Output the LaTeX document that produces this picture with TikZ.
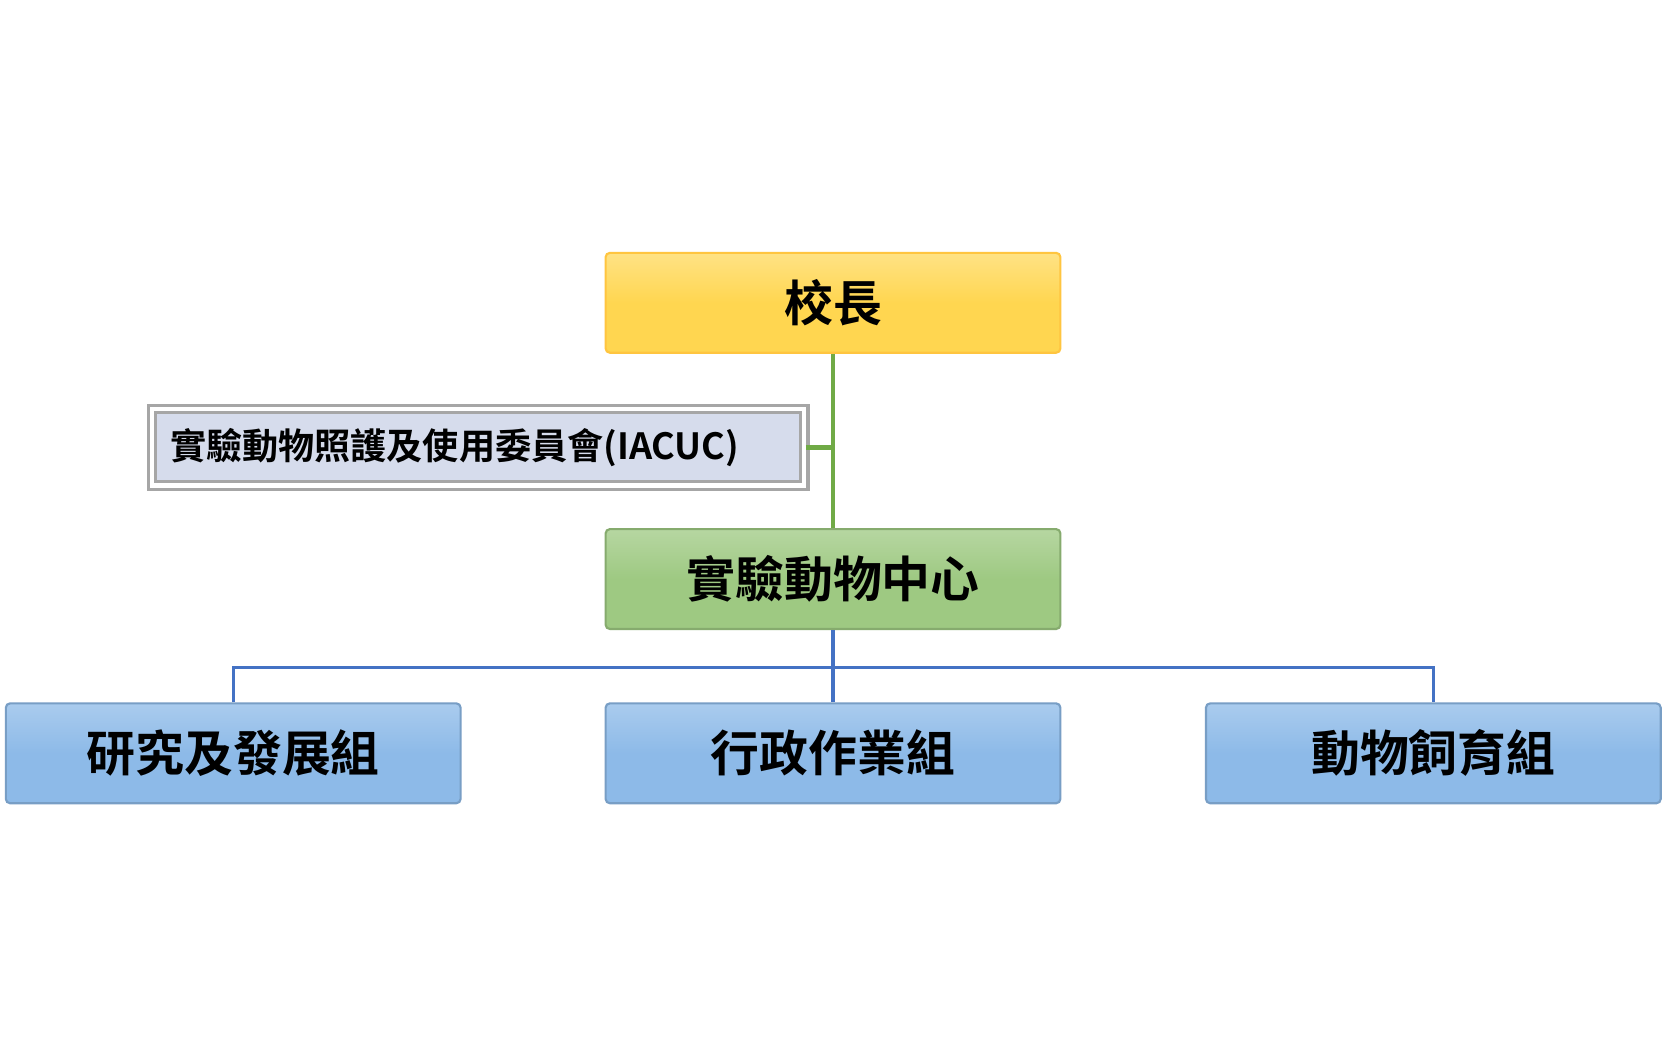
\documentclass[tikz,border=0pt]{standalone}
\usepackage{fontspec}
\newfontfamily\cjk{Noto Sans CJK TC}[BoldFont={Noto Sans CJK TC Bold}]
\usetikzlibrary{shadows}
\definecolor{headyellow}{RGB}{255,214,80}
\definecolor{centergreen}{RGB}{158,201,130}
\definecolor{unitblue}{RGB}{141,186,232}
\definecolor{iacucgray}{RGB}{214,220,236}
\definecolor{linegreen}{RGB}{112,170,70}
\definecolor{lineblue}{RGB}{68,114,196}
\tikzstyle{box}=[rectangle, rounded corners=2pt, minimum width=214pt, minimum height=47pt, inner sep=0pt, anchor=center, font=\cjk\bfseries\fontsize{23}{26}\selectfont, line width=1pt]
\tikzstyle{annot}=[rectangle, fill=iacucgray, draw=black!35, line width=1.5pt, minimum width=307pt, minimum height=36pt, inner sep=0pt, font=\cjk\bfseries\fontsize{17}{20}\selectfont, double=white, double distance=2pt, drop shadow={opacity=0.25}]
\begin{document}
\begin{tikzpicture}[x=0.5pt,y=-0.5pt]
	\useasboundingbox[fill=white] (0,0) rectangle (1568,994);

	\node[box, top color=headyellow!70!white, bottom color=headyellow, middle color=headyellow, draw=headyellow!80!orange](head) at (784,285){校長};
	\node[annot, text width=290pt, align=left](iacuc) at (450,421){實驗動物照護及使用委員會(IACUC)};
	\node[box, top color=centergreen!75!white, bottom color=centergreen, middle color=centergreen, draw=centergreen!85!black](center) at (784,545){實驗動物中心};

	\node[box, top color=unitblue!75!white, bottom color=unitblue, middle color=unitblue, draw=unitblue!85!black](research) at (219.5,709){研究及發展組};
	\node[box, top color=unitblue!75!white, bottom color=unitblue, middle color=unitblue, draw=unitblue!85!black](admin) at (784,709){行政作業組};
	\node[box, top color=unitblue!75!white, bottom color=unitblue, middle color=unitblue, draw=unitblue!85!black](breed) at (1349,709){動物飼育組};

	% green links
	\draw[linegreen, line width=1.5pt] (head.south) -- (center.north);
	\draw[linegreen, line width=2.5pt] (iacuc.east) -- (head.south |- iacuc.east);

	% blue links
	\coordinate (bus) at (784,628);
	\draw[lineblue, line width=1.5pt] (center.south) -- (admin.north);
	\draw[lineblue, line width=1.5pt] (research.north) |- (bus) -| (breed.north);
\end{tikzpicture}
\end{document}
